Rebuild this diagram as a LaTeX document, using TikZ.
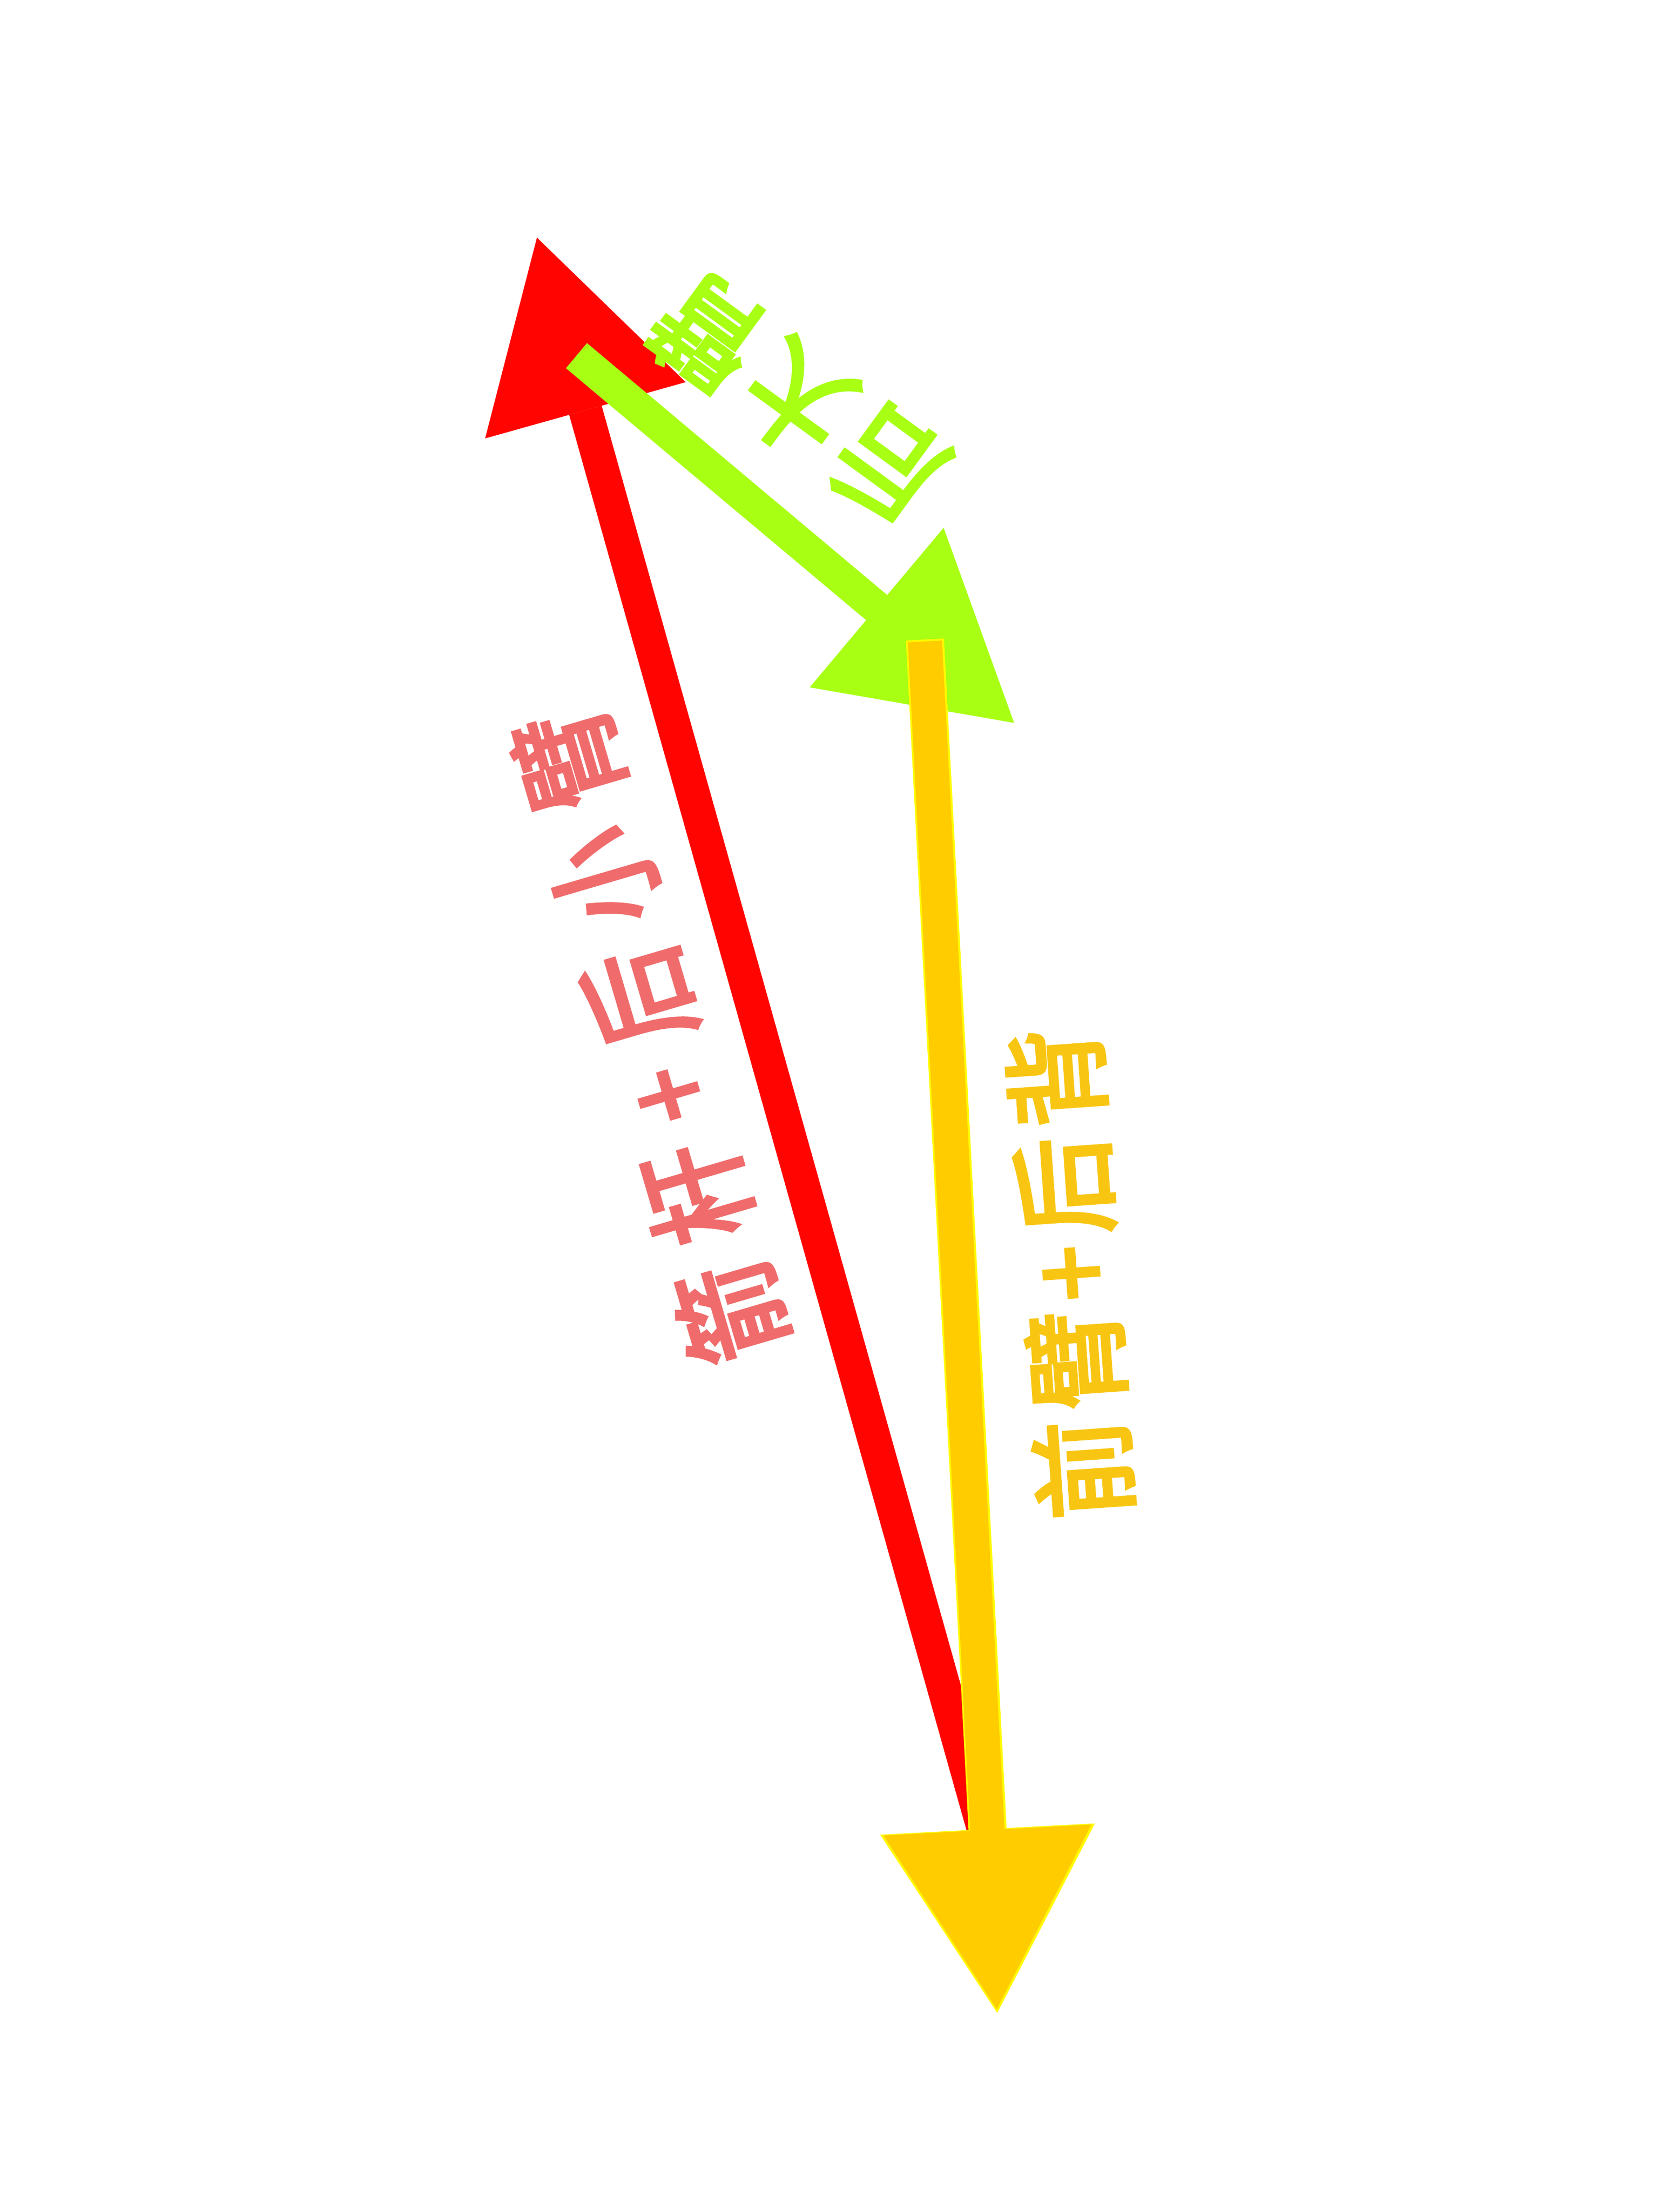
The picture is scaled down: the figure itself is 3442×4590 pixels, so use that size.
\documentclass[tikz,border=0pt]{standalone}
\usepackage{fontspec}
\usepackage{tikz}
\usetikzlibrary{arrows.meta}
\newfontfamily\cjk[FakeBold=3.5]{Noto Sans CJK SC}
\definecolor{arrowred}{RGB}{255,4,0}
\definecolor{labelred}{RGB}{240,108,108}
\definecolor{lime}{RGB}{168,255,20}
\definecolor{amber}{RGB}{255,204,0}
\definecolor{amberedge}{RGB}{255,250,0}
\definecolor{labelamber}{RGB}{248,198,18}
\newcommand{\gapr}{\kern0.27em}
\newcommand{\gapy}{\kern0.10em}
\newcommand{\gapg}{\kern0.13em}

\begin{document}
\begin{tikzpicture}[x=0.01cm,y=-0.01cm,
  vec/.style={line width=#1,-{Triangle[length=3.72cm,width=4.32cm,line width=0pt]}},
  vecedge/.style={line width=#1,-{Triangle[length=3.82cm,width=4.46cm,line width=0pt]}},
  label/.style={inner sep=0pt,font=\cjk}]

\fill [white] (0,0) rectangle (3442,4590) ;
\useasboundingbox (0,0) rectangle (3442,4590) ;

\coordinate (redtail) at (2045,3810) ;
\coordinate (redtip) at (1114,493) ;
\coordinate (greentail) at (1196,738) ;
\coordinate (greentip) at (2104,1500) ;
\coordinate (ambertail) at (1919,1331) ;
\coordinate (ambertip) at (2068,4169) ;
\coordinate (ambertop) at (1919,1327) ;
\coordinate (amberend) at (2069,4177) ;

\draw [vec=0.70cm,arrowred] (redtail) -- (redtip) ;
\draw [vec=0.68cm,lime] (greentail) -- (greentip) ;
\draw [vecedge=0.79cm,amberedge] (ambertop) -- (amberend) ;
\draw [vec=0.71cm,amber] (ambertail) -- (ambertip) ;

\node [label,labelred,rotate=106.4,xscale=0.846,font=\cjk\fontsize{68}{68}\selectfont] (redlabel) at (1348,2150)
  {箭\gapr 杆\gapr+\gapr 后\gapr 小\gapr 臂} ;
\node [label,lime,rotate=143.9,xscale=0.88,font=\cjk\fontsize{67}{67}\selectfont] (greenlabel) at (1655,830)
  {后\gapg 大\gapg 臂} ;
\node [label,labelamber,rotate=94,xscale=0.93,font=\cjk\fontsize{63}{63}\selectfont] (amberlabel) at (2220,2642)
  {前\gapy 臂\gapy+\gapy 后\gapy 背} ;
\end{tikzpicture}
\end{document}
